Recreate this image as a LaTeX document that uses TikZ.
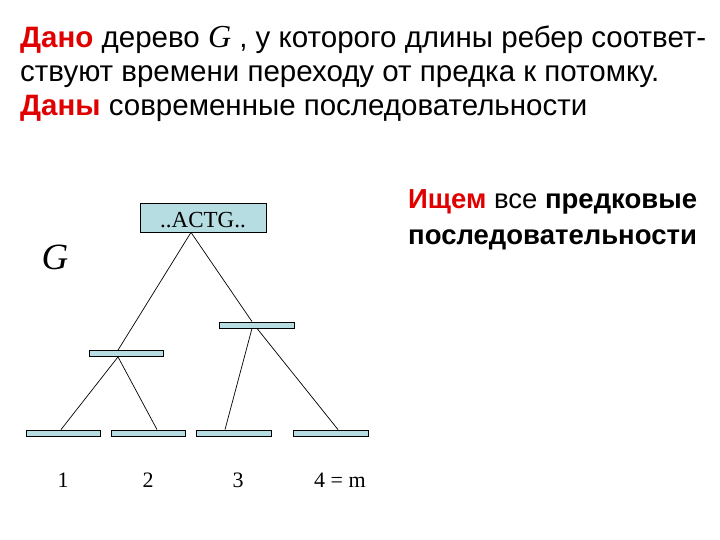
\documentclass[tikz,border=0pt]{standalone}
\usepackage{fontspec}
\setmainfont{Liberation Sans}
\newfontfamily\timesf{Liberation Serif}
\definecolor{titred}{RGB}{225,0,0}
\definecolor{barfill}{RGB}{182,221,226}
\tikzset{
  bar/.style={draw=black, line width=0.8pt, fill=barfill, rectangle, inner sep=0pt, minimum height=6pt},
  edge/.style={draw=black, line width=0.7pt},
  txt/.style={anchor=base west, inner sep=0pt, font=\fontsize{29.5}{32}\selectfont},
  rtxt/.style={anchor=base west, inner sep=0pt, font=\fontsize{27.5}{30}\selectfont},
  lab/.style={anchor=base, inner sep=0pt, font=\timesf\fontsize{22}{25}\selectfont}
}
\begin{document}
\begin{tikzpicture}[x=1pt,y=-1pt]
\useasboundingbox[fill=white] (0,0) rectangle (720,540);
% title
\node[txt] (t1) at (20,48) {\textcolor{titred}{\textbf{Дано}} дерево {\timesf\itshape\fontsize{32}{32}\selectfont G} , у которого длины ребер соответ-};
\node[txt] (t2) at (20,82) {ствуют времени переходу от предка к потомку.};
\node[txt] (t3) at (20,116) {\textcolor{titred}{\textbf{Даны}} современные последовательности};
% right text
\node[rtxt] (r1) at (408,209) {\textcolor{titred}{\textbf{Ищем}} все \textbf{предковые}};
\node[rtxt] (r2) at (408,244) {\textbf{последовательности}};
% G
\node[inner sep=0pt, font=\timesf\itshape\fontsize{37}{40}\selectfont] (G) at (55,257) {G};
% tree
\node[bar, minimum width=126pt, minimum height=29pt, text height=19pt, text depth=0pt, font=\timesf\fontsize{23}{24}\selectfont] (root) at (203,217.5) {..ACTG..};
\node[bar, minimum width=75pt] (R) at (256.5,325) {};
\node[bar, minimum width=74pt] (L) at (126,353.5) {};
\node[bar, minimum width=74pt] (l1) at (63,433) {};
\node[bar, minimum width=74pt] (l2) at (148,433) {};
\node[bar, minimum width=75pt] (l3) at (233.5,433) {};
\node[bar, minimum width=75pt] (l4) at (330.5,433) {};
\draw[edge] ([xshift=-12pt]root.south) -- ([xshift=-8pt]L.north);
\draw[edge] ([xshift=-12pt]root.south) -- ([xshift=-4.5pt]R.north);
\draw[edge] ([xshift=-8pt]L.south) -- ([xshift=-2pt]l1.north);
\draw[edge] ([xshift=-8pt]L.south) -- ([xshift=9pt]l2.north);
\draw[edge] ([xshift=-4.5pt]R.south) -- ([xshift=-8.5pt]l3.north);
\draw[edge] ([xshift=0.5pt]R.south) -- ([xshift=7.5pt]l4.north);
% labels
\node[lab] (n1) at (63,487) {1};
\node[lab] (n2) at (148,487) {2};
\node[lab] (n3) at (238,487) {3};
\node[lab] (n4) at (340,487) {4 = m};
\end{tikzpicture}
\end{document}
